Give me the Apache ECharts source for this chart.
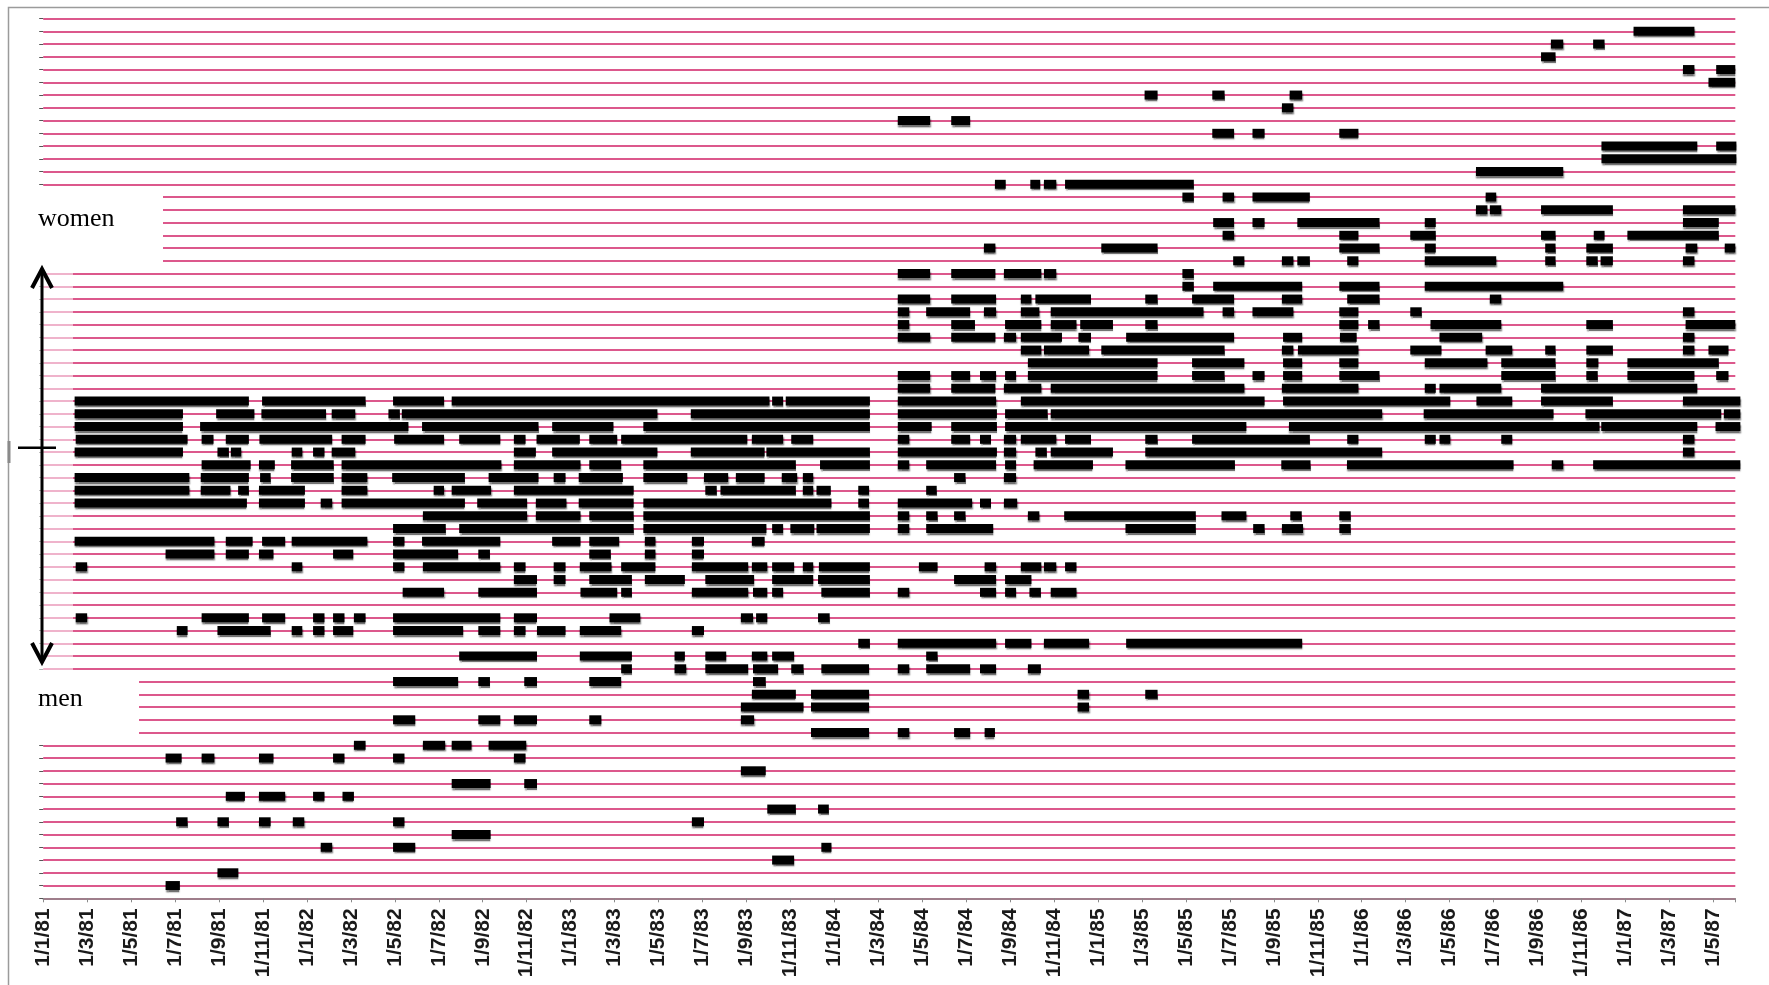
<!DOCTYPE html>
<html>
<head>
<meta charset="utf-8">
<script src="https://cdn.jsdelivr.net/npm/echarts@6/dist/echarts.min.js"></script>
<style>
html,body{margin:0;padding:0;background:#fff;}
#chart{width:1769px;height:985px;}
</style>
</head>
<body>
<div id="chart"></div>
<script>
// x values: months since 1 Jan 1981; tick every 2 months
const tickLabels = [
  '1/1/81','1/3/81','1/5/81','1/7/81','1/9/81','1/11/81',
  '1/1/82','1/3/82','1/5/82','1/7/82','1/9/82','1/11/82',
  '1/1/83','1/3/83','1/5/83','1/7/83','1/9/83','1/11/83',
  '1/1/84','1/3/84','1/5/84','1/7/84','1/9/84','1/11/84',
  '1/1/85','1/3/85','1/5/85','1/7/85','1/9/85','1/11/85',
  '1/1/86','1/3/86','1/5/86','1/7/86','1/9/86','1/11/86',
  '1/1/87','1/3/87','1/5/87'
];
const rowCount = 69;
const axisMaxMonth = 77;

// periods per person row (row 1 = bottom), each [startMonth, endMonth]
const rowPeriods = [
  /* 1*/ [[5.57,6.22]],
  /* 2*/ [[7.93,8.88]],
  /* 3*/ [[33.17,34.17]],
  /* 4*/ [[12.63,13.15],[15.92,16.93],[35.41,35.87]],
  /* 5*/ [[18.59,20.36]],
  /* 6*/ [[6.05,6.57],[7.93,8.45],[9.82,10.35],[11.36,11.88],[15.92,16.44],[29.52,30.07]],
  /* 7*/ [[32.95,34.25],[35.26,35.75]],
  /* 8*/ [[8.31,9.18],[9.82,11.01],[12.28,12.80],[13.62,14.14]],
  /* 9*/ [[18.59,20.36],[21.89,22.47]],
  /*10*/ [[31.75,32.88]],
  /*11*/ [[5.57,6.30],[7.21,7.79],[9.82,10.48],[13.19,13.71],[15.92,16.44],[21.42,21.95]],
  /*12*/ [[14.14,14.67],[17.28,18.29],[18.59,19.49],[20.27,21.98]],
  /*13*/ [[34.94,37.58],[38.89,39.41],[41.45,42.18],[42.84,43.31]],
  /*14*/ [[15.92,16.93],[19.80,20.80],[21.42,22.47],[24.85,25.40],[31.75,32.35]],
  /*15*/ [[31.75,34.60],[34.94,37.58],[47.07,47.59]],
  /*16*/ [[32.25,34.25],[34.94,37.58],[47.07,47.59],[50.15,50.71]],
  /*17*/ [[15.92,18.88],[19.80,20.33],[21.89,22.47],[24.85,26.30],[32.30,32.88]],
  /*18*/ [[26.30,26.79],[28.73,29.26],[30.13,32.08],[32.30,33.44],[34.04,34.60],[35.41,37.58],[38.89,39.41],[40.18,42.18],[42.63,43.36],[44.81,45.40]],
  /*19*/ [[18.93,22.47],[24.42,26.79],[28.73,29.20],[30.13,31.08],[32.25,32.95],[33.17,34.17],[40.18,40.70]],
  /*20*/ [[37.09,37.62],[38.89,43.36],[43.77,44.97],[45.54,47.59],[49.28,57.29]],
  /*21*/ [[6.08,6.57],[7.93,10.35],[11.31,11.79],[12.28,12.80],[13.19,14.11],[15.92,19.11],[19.80,20.80],[21.42,21.95],[22.47,23.77],[24.42,26.30],[29.52,30.07]],
  /*22*/ [[1.48,2.00],[7.21,9.36],[9.96,11.01],[12.28,12.80],[13.19,13.71],[14.14,14.67],[15.92,20.80],[21.42,22.47],[25.77,27.17],[31.75,32.30],[32.44,32.95],[35.26,35.79]],
  /*23*/ [],
  /*24*/ [[16.36,18.24],[19.80,22.47],[24.45,26.12],[26.30,26.79],[29.52,32.08],[32.30,32.95],[33.17,33.67],[35.41,37.62],[38.89,39.41],[42.63,43.36],[43.77,44.27],[44.88,45.40],[45.85,47.02]],
  /*25*/ [[21.42,22.47],[23.23,23.77],[24.85,26.79],[27.38,29.20],[30.13,32.35],[33.17,35.04],[35.26,37.62],[41.45,43.36],[43.77,44.97]],
  /*26*/ [[1.48,2.00],[11.31,11.79],[15.92,16.44],[17.28,20.80],[21.42,21.95],[23.23,23.77],[24.42,25.86],[26.30,27.86],[29.52,32.08],[32.25,32.95],[33.17,34.17],[34.57,35.04],[35.30,37.62],[39.85,40.70],[42.84,43.36],[44.49,45.42],[45.54,46.10],[46.50,47.02]],
  /*27*/ [[5.57,7.79],[8.31,9.36],[9.82,10.48],[13.19,14.11],[15.92,18.88],[19.80,20.33],[24.85,25.83],[27.38,27.86],[29.52,30.07]],
  /*28*/ [[1.43,7.79],[8.31,9.53],[9.96,11.01],[11.31,14.75],[15.92,16.44],[17.24,20.80],[23.16,24.45],[24.85,26.21],[27.38,27.86],[29.52,30.07],[32.25,32.83]],
  /*29*/ [[15.92,18.32],[18.93,26.87],[27.31,32.91],[33.17,33.67],[34.00,35.09],[35.19,37.62],[38.89,39.41],[40.18,43.23],[49.25,52.45],[55.06,55.58],[56.37,57.33],[58.98,59.50]],
  /*30*/ [[17.28,22.02],[22.42,24.45],[24.85,26.87],[27.31,37.62],[38.89,39.41],[40.18,40.70],[41.45,41.97],[44.81,45.33],[46.46,52.45],[53.62,54.75],[56.75,57.27],[58.98,59.50]],
  /*31*/ [[1.43,9.27],[9.82,11.91],[12.63,13.15],[13.58,19.19],[19.75,22.02],[22.42,23.81],[24.37,26.87],[27.31,35.87],[37.09,37.58],[38.89,42.27],[42.63,43.13],[43.72,44.32]],
  /*32*/ [[1.43,6.65],[7.17,8.52],[8.87,9.36],[9.82,11.91],[13.58,14.75],[17.77,18.24],[18.59,20.38],[21.42,26.87],[30.13,30.65],[30.82,34.25],[34.57,35.04],[35.19,35.84],[37.09,37.58],[40.18,40.66]],
  /*33*/ [[1.43,6.65],[7.17,9.36],[9.87,10.35],[11.28,13.22],[13.58,14.75],[15.88,19.19],[20.27,22.54],[23.23,23.77],[24.37,26.38],[27.31,29.31],[30.07,31.17],[31.52,32.83],[33.61,34.31],[34.57,35.04],[41.45,41.97],[43.72,44.27]],
  /*34*/ [[7.21,9.44],[9.82,10.54],[11.28,13.22],[13.58,20.85],[21.42,24.45],[24.85,26.30],[27.31,34.25],[35.35,37.62],[38.89,39.41],[40.18,43.36],[43.77,44.27],[45.07,47.77],[49.25,54.23],[56.34,57.67],[59.33,66.91],[68.65,69.17],[70.53,77.23]],
  /*35*/ [[1.43,6.36],[7.93,8.45],[8.54,9.01],[11.31,11.79],[12.28,12.80],[13.13,14.20],[21.42,22.42],[23.16,27.95],[29.47,32.83],[32.91,37.62],[38.89,43.40],[43.72,44.27],[45.15,45.67],[45.85,48.68],[50.15,60.93],[74.62,75.14]],
  /*36*/ [[1.48,6.57],[7.21,7.75],[8.31,9.36],[9.84,13.15],[13.58,14.67],[15.97,18.24],[18.93,20.80],[21.42,21.95],[22.45,24.42],[24.85,26.12],[26.30,32.04],[32.25,33.67],[34.04,35.04],[38.89,39.41],[41.32,42.18],[42.63,43.13],[43.72,44.27],[44.49,46.10],[46.50,47.68],[50.15,50.71],[52.28,57.64],[59.34,59.85],[62.87,63.37],[63.54,64.03],[66.35,66.85],[74.62,75.14]],
  /*37*/ [[1.43,6.36],[7.14,16.62],[17.24,22.54],[23.16,25.95],[27.31,37.62],[38.89,40.43],[41.32,43.40],[43.77,54.75],[56.69,70.82],[70.90,75.27],[76.10,77.23]],
  /*38*/ [[1.43,6.36],[7.87,9.61],[9.93,12.87],[13.13,14.20],[15.71,16.23],[16.32,27.95],[29.47,37.62],[38.89,43.40],[43.77,45.71],[45.85,60.93],[62.82,68.73],[70.18,76.36],[76.48,77.23]],
  /*39*/ [[1.43,9.36],[9.96,14.67],[15.92,18.24],[18.59,33.05],[33.17,33.67],[33.79,37.62],[38.89,43.36],[44.49,55.58],[56.42,64.03],[65.22,66.85],[68.16,71.43],[74.62,77.23]],
  /*40*/ [[38.89,40.36],[41.32,43.33],[43.72,45.42],[45.85,54.66],[56.37,59.85],[62.87,63.37],[63.54,66.35],[68.16,75.27]],
  /*41*/ [[38.89,40.36],[41.32,42.18],[42.63,43.36],[43.77,44.27],[44.81,50.71],[52.28,53.76],[55.03,55.58],[56.42,57.29],[58.98,60.81],[66.35,68.82],[70.22,70.74],[72.09,75.14],[76.13,76.69]],
  /*42*/ [[44.81,50.71],[52.28,54.66],[56.42,57.29],[58.98,59.85],[62.87,65.72],[66.35,68.82],[70.22,70.77],[72.09,76.25]],
  /*43*/ [[44.49,45.42],[45.54,47.59],[48.15,53.76],[56.37,56.89],[57.10,59.85],[62.21,63.63],[65.64,66.85],[68.35,68.82],[70.22,71.43],[74.62,75.14],[75.78,76.69]],
  /*44*/ [[38.89,40.36],[41.32,43.33],[43.72,44.27],[44.49,46.36],[47.11,47.68],[49.28,54.19],[56.42,57.29],[59.01,59.77],[63.54,65.48],[74.62,75.14]],
  /*45*/ [[38.89,39.41],[41.32,42.40],[43.77,45.42],[45.85,47.02],[47.19,48.68],[50.15,50.71],[58.98,59.85],[60.29,60.81],[63.13,66.35],[70.22,71.43],[74.74,77.00]],
  /*46*/ [[38.89,39.41],[40.18,42.18],[42.81,43.36],[44.49,45.33],[45.85,52.80],[53.67,54.19],[55.03,56.89],[58.98,59.85],[62.21,62.73],[74.62,75.14]],
  /*47*/ [[38.89,40.36],[41.32,43.36],[44.49,44.97],[45.15,47.68],[50.15,50.71],[52.28,54.19],[56.37,57.29],[59.34,60.81],[65.83,66.35]],
  /*48*/ [[51.84,52.36],[53.24,57.29],[58.98,60.81],[62.87,69.17]],
  /*49*/ [[38.89,40.36],[41.32,43.33],[43.72,45.42],[45.54,46.10],[51.84,52.36]],
  /*50*/ [[54.15,54.66],[56.37,56.89],[57.07,57.64],[59.34,59.85],[62.87,66.12],[68.35,68.82],[70.22,70.74],[70.87,71.43],[74.62,75.14]],
  /*51*/ [[42.81,43.33],[48.15,50.71],[58.98,60.81],[62.87,63.37],[68.35,68.82],[70.22,71.43],[74.74,75.27],[76.52,77.00]],
  /*52*/ [[53.67,54.19],[58.98,59.85],[62.21,63.37],[68.16,68.82],[70.56,71.05],[72.09,76.25]],
  /*53*/ [[53.24,54.19],[55.03,55.58],[57.07,60.81],[62.87,63.37],[74.62,76.25]],
  /*54*/ [[65.20,65.72],[65.83,66.35],[68.16,71.43],[74.62,77.00]],
  /*55*/ [[51.84,52.36],[53.67,54.19],[55.03,57.64],[65.64,66.12]],
  /*56*/ [[43.31,43.80],[44.92,45.37],[45.54,46.10],[46.50,52.36]],
  /*57*/ [[65.20,69.17]],
  /*58*/ [[70.91,77.05]],
  /*59*/ [[70.91,75.27],[76.13,77.05]],
  /*60*/ [[53.20,54.19],[55.03,55.58],[58.98,59.85]],
  /*61*/ [[38.89,40.36],[41.32,42.18]],
  /*62*/ [[56.37,56.89]],
  /*63*/ [[50.12,50.71],[53.20,53.76],[56.72,57.29]],
  /*64*/ [[75.78,77.00]],
  /*65*/ [[74.62,75.14],[76.13,77.00]],
  /*66*/ [[68.16,68.82]],
  /*67*/ [[68.61,69.17],[70.53,71.05]],
  /*68*/ [[72.37,75.14]],
  /*69*/ []
];

const labelTop = 'women';
const labelBottom = 'men';

const segData = [];
rowPeriods.forEach((list, i) => {
  list.forEach(p => segData.push([i + 1, p[0], p[1]]));
});

const chart = echarts.init(document.getElementById('chart'), null, {renderer: 'canvas'});

const option = {
  animation: false,
  backgroundColor: '#ffffff',
  grid: {left: 43.2, right: 33.7, top: 18.55, bottom: 86.7, containLabel: false},
  xAxis: {
    type: 'value', min: 0, max: axisMaxMonth, interval: 2,
    axisLine: {show: true, lineStyle: {color: '#8a8a8a', width: 1.5}},
    axisTick: {show: true, length: 4, lineStyle: {color: '#8a8a8a', width: 1}},
    splitLine: {show: false},
    axisLabel: {
      show: true, rotate: 90, margin: 10,
      fontSize: 21, fontWeight: 'bold',
      fontFamily: '"Liberation Sans Narrow", "Arial Narrow", "Liberation Sans", sans-serif',
      color: '#1a1a1a',
      formatter: function (v) {
        const i = Math.round(v / 2);
        if (Math.abs(v - i * 2) > 1e-6) return '';
        return tickLabels[i] || '';
      }
    }
  },
  yAxis: {
    type: 'value', min: 0, max: rowCount, interval: 1,
    axisLine: {show: false},
    axisTick: {show: true, length: 4, lineStyle: {color: '#555', width: 1}},
    axisLabel: {show: false},
    splitLine: {show: true, lineStyle: {color: '#d8467f', width: 2, opacity: 0.9}}
  },
  series: [{
    type: 'custom',
    clip: false,
    z: 5,
    data: segData,
    encode: {x: [1, 2], y: 0},
    renderItem: function (params, api) {
      const row = api.value(0);
      const p1 = api.coord([api.value(1), row]);
      const p2 = api.coord([api.value(2), row]);
      return {
        type: 'rect',
        shape: {x: p1[0], y: p1[1] - 4.5, width: Math.max(2, p2[0] - p1[0]), height: 9},
        style: {fill: '#000', shadowColor: 'rgba(0,0,0,0.55)', shadowOffsetY: 2.5, shadowOffsetX: 0.5, shadowBlur: 1.5}
      };
    }
  }],
  graphic: [
    {type: 'rect', z: 200, silent: true, shape: {x: 8.5, y: 7.5, width: 1800, height: 1000},
     style: {fill: 'none', stroke: '#9b9b9b', lineWidth: 1.5}},
    {type: 'rect', z: 201, silent: true, shape: {x: 7.5, y: 441, width: 3, height: 22},
     style: {fill: '#8a8a8a'}},
    {type: 'rect', z: 100, silent: true, shape: {x: 30, y: 266, width: 43, height: 408},
     style: {fill: 'rgba(255,255,255,0.55)'}},
    {type: 'rect', z: 101, silent: true, shape: {x: 30, y: 191, width: 133, height: 75},
     style: {fill: '#ffffff'}},
    {type: 'text', z: 102, silent: true,
     style: {text: labelTop, x: 38, y: 219.5, font: '26px "Liberation Serif", "Times New Roman", serif', fill: '#000', verticalAlign: 'middle', align: 'left'}},
    {type: 'rect', z: 101, silent: true, shape: {x: 30, y: 675, width: 109, height: 63},
     style: {fill: '#ffffff'}},
    {type: 'text', z: 102, silent: true,
     style: {text: labelBottom, x: 38, y: 699, font: '26px "Liberation Serif", "Times New Roman", serif', fill: '#000', verticalAlign: 'middle', align: 'left'}},
    {type: 'polyline', z: 103, silent: true, shape: {points: [[42, 270], [42, 660]]},
     style: {stroke: '#000', lineWidth: 3, fill: 'none'}},
    {type: 'polyline', z: 103, silent: true, shape: {points: [[32, 288], [42, 269], [52, 288]]},
     style: {stroke: '#000', lineWidth: 4, fill: 'none', lineJoin: 'miter'}},
    {type: 'polyline', z: 103, silent: true, shape: {points: [[32, 643], [42, 662], [52, 643]]},
     style: {stroke: '#000', lineWidth: 4, fill: 'none', lineJoin: 'miter'}},
    {type: 'line', z: 103, silent: true, shape: {x1: 18, y1: 447.7, x2: 56, y2: 447.7},
     style: {stroke: '#000', lineWidth: 2.5}}
  ]
};
chart.setOption(option);
</script>
</body>
</html>
